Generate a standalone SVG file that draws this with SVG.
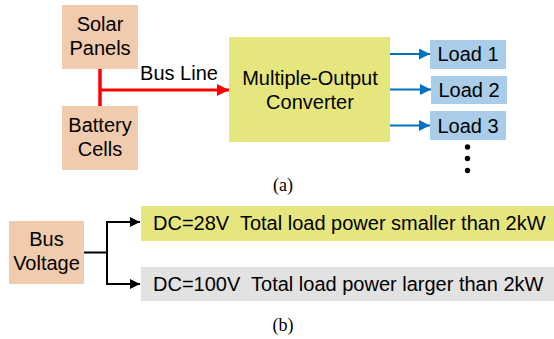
<svg xmlns="http://www.w3.org/2000/svg" width="554" height="339" viewBox="0 0 554 339">
<defs>
<style>
.t{font-family:"Liberation Sans",Arial,sans-serif;font-size:20px;fill:#000}
.cap{font-family:"Liberation Serif","Times New Roman",serif;font-size:18px;fill:#000}
.src{fill:#f0cbad}
.load{fill:#a9cde9}
</style>
<marker id="ar" viewBox="0 0 10 10" refX="10" refY="5" markerWidth="4" markerHeight="4" orient="auto" markerUnits="strokeWidth"><path d="M0,0L10,5L0,10z" fill="#ff0000"/></marker>
<marker id="ab" viewBox="0 0 10 10" refX="10" refY="5" markerWidth="5.5" markerHeight="5.5" orient="auto" markerUnits="strokeWidth"><path d="M0,0L10,5L0,10z" fill="#0070c0"/></marker>
<marker id="ak" viewBox="0 0 10 10" refX="10" refY="5" markerWidth="5" markerHeight="5" orient="auto" markerUnits="strokeWidth"><path d="M0,0L10,5L0,10z" fill="#000"/></marker>
</defs>
<g id="connectors">
<path d="M100,68V107" stroke="#ff0000" stroke-width="3.5" fill="none"/>
<path d="M100,90H229" stroke="#ff0000" stroke-width="3" fill="none" marker-end="url(#ar)"/>
<path d="M390,54H430" stroke="#0070c0" stroke-width="2" fill="none" marker-end="url(#ab)"/>
<path d="M390,89.5H431" stroke="#0070c0" stroke-width="2" fill="none" marker-end="url(#ab)"/>
<path d="M390,125.5H430" stroke="#0070c0" stroke-width="2" fill="none" marker-end="url(#ab)"/>
<path d="M84,252.5H107M107,222V284" stroke="#000" stroke-width="2" fill="none"/>
<path d="M106,222H140" stroke="#000" stroke-width="2" fill="none" marker-end="url(#ak)"/>
<path d="M106,284H140" stroke="#000" stroke-width="2" fill="none" marker-end="url(#ak)"/>
</g>
<text class="t" x="179" y="80" text-anchor="middle">Bus Line</text>
<g id="solar"><rect class="src" x="62" y="5" width="76" height="64"/><text class="t" x="100" y="31" text-anchor="middle">Solar</text><text class="t" x="100" y="55" text-anchor="middle">Panels</text></g>
<g id="battery"><rect class="src" x="62" y="106" width="76" height="64"/><text class="t" x="100" y="132" text-anchor="middle">Battery</text><text class="t" x="100" y="156" text-anchor="middle">Cells</text></g>
<g id="converter"><rect x="229" y="37" width="161" height="105" fill="#e6e67e"/><text class="t" x="310" y="85" text-anchor="middle">Multiple-Output</text><text class="t" x="310" y="109" text-anchor="middle">Converter</text></g>
<g id="load1"><rect class="load" x="430" y="40" width="76" height="29"/><text class="t" x="468" y="61" text-anchor="middle">Load 1</text></g>
<g id="load2"><rect class="load" x="431" y="76" width="76" height="28"/><text class="t" x="469" y="96.5" text-anchor="middle">Load 2</text></g>
<g id="load3"><rect class="load" x="430" y="111" width="76" height="29"/><text class="t" x="468" y="132.5" text-anchor="middle">Load 3</text></g>
<g id="dots" fill="#000"><circle cx="467.5" cy="147" r="2.7"/><circle cx="467.5" cy="158.5" r="2.7"/><circle cx="467.5" cy="170.5" r="2.7"/></g>
<text class="cap" x="283" y="191" text-anchor="middle">(a)</text>
<g id="busvoltage"><rect class="src" x="9" y="221" width="75" height="63"/><text class="t" x="46.5" y="246" text-anchor="middle">Bus</text><text class="t" x="46.5" y="270" text-anchor="middle">Voltage</text></g>
<g id="dc28"><rect x="141" y="206" width="413" height="35" fill="#e6e67e"/><text class="t" x="153" y="230" xml:space="preserve">DC=28V  Total load power smaller than 2kW</text></g>
<g id="dc100"><rect x="141" y="267" width="413" height="34" fill="#e2e2e2"/><text class="t" x="153" y="291" xml:space="preserve">DC=100V  Total load power larger than 2kW</text></g>
<text class="cap" x="283" y="331" text-anchor="middle">(b)</text>
</svg>
